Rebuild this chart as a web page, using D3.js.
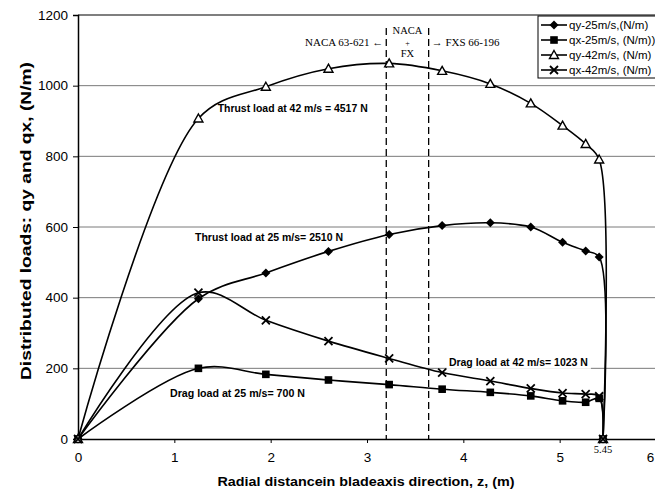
<!DOCTYPE html>
<html>
<head>
<meta charset="utf-8">
<script src="https://cdn.jsdelivr.net/npm/d3@7"></script>
<style>
  body { margin: 0; background: #fff; }
  svg { display: block; font-family: Arial, "Liberation Sans", sans-serif; }
</style>
</head>
<body>
<div class="chart"></div>
<script>
// Datos
var z     = [0, 1.25, 1.95, 2.6, 3.23, 3.78, 4.28, 4.7, 5.03, 5.27, 5.41, 5.45];
var qy25  = [0, 397, 470, 531, 579, 604, 612, 600, 557, 532, 515, 0];
var qx25  = [0, 200, 183, 167, 154, 141, 132, 122, 108, 104, 115, 0];
var qy42  = [0, 907, 997, 1048, 1063, 1042, 1005, 950, 887, 835, 791, 0];
var qx42  = [0, 414, 336, 277, 228, 188, 164, 143, 130, 127, 121, 0];

var seriesNames = ["qy-25m/s,(N/m)", "qx-25m/s, (N/m))", "qy-42m/s, (N/m)", "qx-42m/s, (N/m)"];
var seriesMarks = ["diamond", "square", "triangle", "cross"];
var xTicks = [0, 1, 2, 3, 4, 5, 6];
var yTicks = [0, 200, 400, 600, 800, 1000, 1200];
var profileLines = [3.2, 3.64];
var loadLabels = [
    { text: "Thrust load at 42 m/s = 4517 N", z: 1.45, v: 925, w: 150 },
    { text: "Thrust load at 25 m/s= 2510 N", z: 1.215, v: 560, w: 148 },
    { text: "Drag load at 25 m/s= 700 N", z: 0.955, v: 119, w: 135 },
    { text: "Drag load at 42 m/s= 1023 N", z: 3.85, v: 207, w: 139 }
];

var W = 655, H = 495;
var svg = d3.select(".chart").append("svg")
    .attr("width", W)
    .attr("height", H);

var x = d3.scaleLinear().domain([0, 6]).range([78, 656]);
var y = d3.scaleLinear().domain([0, 1200]).range([439, 15]);

// Rejilla horizontal
svg.selectAll("line.grid")
    .data(yTicks.filter(function(d) { return d > 0 && d < 1200; }))
    .enter().append("line")
    .attr("class", "grid")
    .attr("x1", x(0)).attr("x2", W)
    .attr("y1", function(d) { return y(d); })
    .attr("y2", function(d) { return y(d); })
    .attr("stroke", "#7a7a7a")
    .attr("stroke-width", 1);

// Borde superior
svg.append("line")
    .attr("x1", x(0)).attr("x2", W)
    .attr("y1", y(1200)).attr("y2", y(1200))
    .attr("stroke", "#000").attr("stroke-width", 1.2);

// fondo blanco bajo la etiqueta de arrastre 42 m/s
svg.append("rect")
    .attr("x", x(3.85) - 2).attr("y", y(207) - 10)
    .attr("width", 144).attr("height", 13)
    .attr("fill", "#fff");

// Ejes
var xAxis = svg.append("g")
    .attr("transform", "translate(0," + y(0) + ")")
    .call(d3.axisBottom(x).tickValues(xTicks).tickSize(4).tickPadding(9).tickFormat(d3.format("d")));
var yAxis = svg.append("g")
    .attr("transform", "translate(" + x(0) + ",0)")
    .call(d3.axisLeft(y).tickValues(yTicks).tickSize(5).tickPadding(5).tickFormat(d3.format("d")));
[xAxis, yAxis].forEach(function(g) {
    g.select(".domain").attr("stroke", "#000").attr("stroke-width", 1.5);
    g.selectAll(".tick line").attr("stroke", "#000");
    g.selectAll(".tick text").attr("font-size", 13.5).attr("fill", "#000")
        .attr("font-family", "Arial, 'Liberation Sans', sans-serif");
});
// el 6 queda en el borde
xAxis.selectAll(".tick text").filter(function(d) { return d === 6; }).attr("dx", -6);

svg.append("text")
    .attr("x", x(5.45)).attr("y", 453)
    .attr("text-anchor", "middle")
    .attr("font-family", "'Liberation Serif', 'Times New Roman', serif")
    .attr("font-size", 10.5)
    .text("5.45");

// Titulos de ejes
svg.append("text")
    .attr("x", 366).attr("y", 486)
    .attr("text-anchor", "middle")
    .attr("font-size", 13.5).attr("font-weight", "bold")
    .attr("textLength", 297).attr("lengthAdjust", "spacingAndGlyphs")
    .text("Radial distancein bladeaxis direction, z, (m)");
svg.append("text")
    .attr("transform", "translate(31,221) rotate(-90)")
    .attr("text-anchor", "middle")
    .attr("font-size", 14).attr("font-weight", "bold")
    .attr("textLength", 318).attr("lengthAdjust", "spacingAndGlyphs")
    .text("Distributed loads: qy and qx, (N/m)");

// Lineas de perfiles (discontinuas)
svg.selectAll("line.profile")
    .data(profileLines)
    .enter().append("line")
    .attr("class", "profile")
    .attr("x1", function(d) { return x(d); })
    .attr("x2", function(d) { return x(d); })
    .attr("y1", 28).attr("y2", y(0))
    .attr("stroke", "#000")
    .attr("stroke-width", 1.3)
    .attr("stroke-dasharray", "7,4");

var serif = "'Liberation Serif', 'Times New Roman', serif";
svg.append("text").attr("x", x(3.2) - 3).attr("y", 46)
    .attr("text-anchor", "end").attr("font-family", serif).attr("font-size", 11)
    .text("NACA 63-621 \u2190");
svg.append("text").attr("x", x(3.64) + 3).attr("y", 46)
    .attr("font-family", serif).attr("font-size", 11)
    .text("\u2192 FXS 66-196");
svg.selectAll("text.mid")
    .data(["NACA", "+", "FX"])
    .enter().append("text")
    .attr("class", "mid")
    .attr("x", (x(3.2) + x(3.64)) / 2)
    .attr("y", function(d, i) { return [34, 46, 57][i]; })
    .attr("text-anchor", "middle")
    .attr("font-family", serif)
    .attr("font-size", function(d) { return d === "+" ? 8 : 10.5; })
    .text(function(d) { return d; });

// Series
var allSeries = [qy25, qx25, qy42, qx42];
var line = d3.line()
    .x(function(d, i) { return x(z[i]); })
    .y(function(d) { return y(d); })
    .curve(d3.curveCatmullRom.alpha(0.5));

svg.selectAll("path.serie")
    .data(allSeries)
    .enter().append("path")
    .attr("class", "serie")
    .attr("d", line)
    .attr("fill", "none")
    .attr("stroke", "#000")
    .attr("stroke-width", 1.6);

function drawMark(g, kind, cx, cy) {
    if (kind === "diamond") {
        g.append("path").attr("d", "M" + cx + "," + (cy - 4.5) + "L" + (cx + 4.5) + "," + cy + "L" + cx + "," + (cy + 4.5) + "L" + (cx - 4.5) + "," + cy + "Z")
            .attr("fill", "#000");
    } else if (kind === "square") {
        g.append("rect").attr("x", cx - 3.8).attr("y", cy - 3.8).attr("width", 7.6).attr("height", 7.6)
            .attr("fill", "#000");
    } else if (kind === "triangle") {
        g.append("path").attr("d", "M" + cx + "," + (cy - 4.5) + "L" + (cx + 4.5) + "," + (cy + 3.5) + "L" + (cx - 4.5) + "," + (cy + 3.5) + "Z")
            .attr("fill", "#fff").attr("stroke", "#000").attr("stroke-width", 1.4);
    } else {
        g.append("path").attr("d", "M" + (cx - 4) + "," + (cy - 4) + "L" + (cx + 4) + "," + (cy + 4) + "M" + (cx + 4) + "," + (cy - 4) + "L" + (cx - 4) + "," + (cy + 4))
            .attr("stroke", "#000").attr("stroke-width", 1.8);
    }
}

var marks = svg.append("g");
allSeries.forEach(function(s, k) {
    s.forEach(function(v, i) {
        drawMark(marks, seriesMarks[k], x(z[i]), y(v));
    });
});

// Etiquetas de carga
svg.selectAll("text.load")
    .data(loadLabels)
    .enter().append("text")
    .attr("class", "load")
    .attr("x", function(d) { return x(d.z); })
    .attr("y", function(d) { return y(d.v); })
    .attr("font-weight", "bold")
    .attr("font-size", 11.5)
    .attr("textLength", function(d) { return d.w; })
    .attr("lengthAdjust", "spacingAndGlyphs")
    .text(function(d) { return d.text; });

// Leyenda
var legend = svg.append("g").attr("transform", "translate(538,16)");
legend.append("rect")
    .attr("width", 125).attr("height", 62)
    .attr("fill", "#fff").attr("stroke", "#000").attr("stroke-width", 1);
seriesNames.forEach(function(name, i) {
    var ly = 9 + i * 15;
    legend.append("line")
        .attr("x1", 3).attr("x2", 29).attr("y1", ly).attr("y2", ly)
        .attr("stroke", "#000").attr("stroke-width", 1.6);
    drawMark(legend, seriesMarks[i], 16, ly);
    legend.append("text")
        .attr("x", 31).attr("y", ly + 4)
        .attr("font-size", 11.5)
        .text(name);
});
</script>
</body>
</html>
